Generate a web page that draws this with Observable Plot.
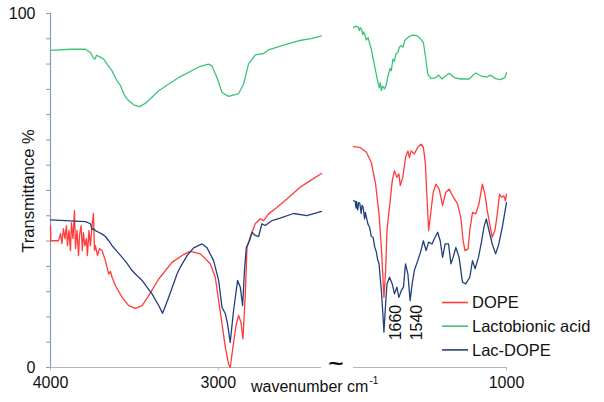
<!DOCTYPE html>
<html>
<head>
<meta charset="utf-8">
<script src="https://cdn.jsdelivr.net/npm/d3@7"></script>
<script src="https://cdn.jsdelivr.net/npm/@observablehq/plot@0.6"></script>
<style>
  html, body { margin: 0; padding: 0; background: #fff; }
  #chart { position: relative; width: 604px; height: 402px; background: #fff; overflow: hidden; }
  #chart svg { position: absolute; top: 0; }
</style>
</head>
<body>
<div id="chart"></div>
<script>
// ---------- data ----------
const seriesNames = ["DOPE", "Lactobionic acid", "Lac-DOPE"];
const seriesColors = ["#ff3b3b", "#3cc47a", "#243f7e"];

const leftDomain = [4000, 2385];
const rightDomain = [1900, 1000];
const leftXTicks = [4000, 3000];
const rightXTicks = [1000];
const yTicks = d3.range(15).map(i => i * 100 / 14);
const yTickLabels = [0, 100];
const xLabel = "wavenumber cm";
const xLabelSup = "-1";
const yLabel = "Transmittance %";
const breakMark = "~";
const peakLabels = [{wn: 1660, t: 12.7, label: "1660"}, {wn: 1540, t: 12.7, label: "1540"}];

// DOPE (wavenumber, transmittance)
const dopeLeft = [[4000,40.1],[3998,35.8],[3952,35.8],[3940,37.8],[3932,35.0],[3923,39.2],[3914,36.4],[3905,40.1],[3899,34.4],[3890,38.7],[3881,33.0],[3875,40.9],[3866,36.4],[3857,44.3],[3851,33.6],[3842,38.7],[3833,31.6],[3827,37.3],[3818,40.1],[3810,33.0],[3804,38.1],[3795,34.4],[3786,36.4],[3780,31.6],[3771,38.7],[3762,34.4],[3753,39.8],[3744,43.5],[3738,33.0],[3732,34.4],[3720,31.6],[3708,33.6],[3692,33.0],[3673,30.2],[3653,26.4],[3643,27.2],[3633,25.5],[3613,23.1],[3573,19.8],[3534,17.5],[3494,16.7],[3454,17.5],[3415,20.3],[3355,25.0],[3276,29.7],[3207,31.9],[3167,32.8],[3107,32.1],[3048,29.3],[3018,25.5],[2998,18.9],[2978,12.3],[2958,5.7],[2939,1.0],[2929,0],[2913,5.7],[2893,12.3],[2879,14.7],[2865,12.8],[2853,8.1],[2839,20.8],[2829,33.9],[2810,36.8],[2780,40.6],[2750,42.0],[2730,41.5],[2701,43.4],[2651,45.2],[2591,47.6],[2512,50.9],[2452,52.8],[2385,54.8]];
const dopeRight = [[1900,62.4],[1863,62.2],[1824,60.8],[1795,57.9],[1770,51.8],[1750,43.4],[1736,33.9],[1726,24.5],[1721,19.8],[1711,27.4],[1703,38.7],[1691,44.3],[1684,47.1],[1672,52.8],[1659,55.6],[1645,53.7],[1633,54.7],[1625,51.4],[1610,53.7],[1594,59.3],[1580,61.2],[1571,59.3],[1561,61.2],[1542,60.3],[1522,62.2],[1503,63.1],[1489,62.2],[1477,57.5],[1468,48.1],[1458,38.7],[1444,44.3],[1431,49.5],[1415,51.8],[1396,50.4],[1376,45.7],[1357,49.5],[1337,50.4],[1317,48.5],[1288,46.2],[1269,42.4],[1255,35.8],[1244,33.0],[1226,33.5],[1216,38.7],[1200,43.8],[1181,43.4],[1162,46.2],[1142,51.8],[1127,49.0],[1113,44.3],[1099,40.6],[1084,36.8],[1068,38.7],[1054,43.4],[1041,49.0],[1029,48.1],[1016,48.5],[1006,47.1],[1000,49.0]];

// Lactobionic acid
const lactoLeft = [[4000,89.6],[3880,89.9],[3792,89.9],[3762,89.0],[3745,87.5],[3736,87.1],[3725,88.2],[3716,88.0],[3700,87.6],[3683,87.1],[3660,85.5],[3633,83.8],[3610,81.5],[3583,79.6],[3560,77.0],[3543,75.8],[3504,74.2],[3469,73.7],[3435,74.6],[3355,78.2],[3236,81.9],[3117,84.9],[3058,85.7],[3038,85.2],[3008,81.9],[2978,77.7],[2939,76.6],[2879,77.4],[2849,80.1],[2820,85.7],[2780,88.3],[2730,88.7],[2701,89.7],[2601,91.2],[2522,92.3],[2442,93.0],[2385,93.7]];
const lactoRight = [[1900,96.0],[1890,96.4],[1873,96.3],[1865,95.2],[1860,96.0],[1853,95.6],[1845,94.0],[1840,94.8],[1834,94.2],[1825,92.5],[1814,93.2],[1805,91.5],[1795,89.9],[1776,85.2],[1756,80.5],[1748,79.0],[1742,80.5],[1736,78.2],[1728,79.5],[1717,78.7],[1707,80.0],[1697,82.4],[1685,84.5],[1678,83.8],[1668,87.1],[1660,86.5],[1650,88.6],[1639,89.0],[1630,90.5],[1619,90.9],[1608,90.5],[1600,92.3],[1590,92.8],[1570,93.6],[1551,93.9],[1530,93.8],[1513,93.2],[1489,91.8],[1477,88.0],[1463,82.9],[1444,81.6],[1415,81.9],[1399,82.6],[1380,81.5],[1357,82.4],[1337,83.1],[1308,81.9],[1269,81.5],[1220,81.5],[1181,83.2],[1142,82.2],[1113,82.1],[1094,82.6],[1064,81.6],[1035,81.3],[1010,81.9],[1000,83.3]];

// Lac-DOPE
const lacDopeLeft = [[4000,41.7],[3911,41.5],[3792,41.2],[3762,40.6],[3752,39.0],[3742,39.1],[3730,38.6],[3713,38.2],[3690,37.6],[3673,37.0],[3650,35.6],[3633,34.4],[3600,32.6],[3573,31.1],[3545,29.5],[3514,27.4],[3485,26.0],[3454,24.6],[3425,22.7],[3395,20.8],[3355,17.5],[3332,15.3],[3296,19.8],[3246,26.4],[3227,28.3],[3186,31.6],[3147,33.8],[3097,34.9],[3067,33.8],[3028,30.2],[2998,24.6],[2978,17.0],[2958,15.2],[2945,12.3],[2929,7.1],[2909,16.1],[2885,24.6],[2869,22.7],[2855,17.5],[2844,27.4],[2833,33.9],[2814,35.8],[2799,38.2],[2780,37.3],[2760,37.0],[2740,40.6],[2720,40.1],[2680,41.5],[2631,42.2],[2552,43.5],[2472,42.9],[2385,44.1]];
const lacDopeRight = [[1900,47.1],[1890,46.9],[1885,45.0],[1882,46.9],[1875,44.5],[1870,46.6],[1863,46.4],[1855,43.5],[1850,45.8],[1843,45.2],[1835,42.0],[1830,43.8],[1824,42.4],[1815,40.5],[1805,39.6],[1795,37.0],[1785,36.8],[1775,34.0],[1766,32.7],[1758,30.5],[1750,29.3],[1736,21.7],[1726,14.2],[1721,10.0],[1711,18.0],[1703,23.6],[1688,25.5],[1672,23.6],[1659,20.8],[1645,22.7],[1633,19.8],[1619,21.7],[1606,22.7],[1594,29.3],[1580,26.4],[1567,18.9],[1555,23.6],[1542,27.4],[1522,30.2],[1503,33.0],[1489,35.8],[1473,33.0],[1458,35.4],[1438,34.9],[1425,36.3],[1405,38.2],[1390,35.8],[1376,31.1],[1361,34.9],[1341,34.9],[1327,29.3],[1314,31.1],[1298,33.9],[1279,31.1],[1259,24.1],[1240,23.6],[1216,25.5],[1200,30.2],[1185,27.9],[1165,31.1],[1146,35.8],[1133,39.6],[1119,42.0],[1103,38.7],[1084,34.9],[1064,32.1],[1045,34.9],[1025,39.6],[1000,46.6]];

// ---------- build ----------
const FONT = "'Liberation Sans', Arial, Helvetica, sans-serif";
const leftSeries = [dopeLeft, lactoLeft, lacDopeLeft];
const rightSeries = [dopeRight, lactoRight, lacDopeRight];

function table(arrs) {
  const rows = [];
  arrs.forEach((arr, i) => arr.forEach(([wn, t]) => rows.push({series: seriesNames[i], wn, t})));
  return rows;
}
const lineMarks = rows => seriesNames.map((name, i) =>
  Plot.line(rows.filter(r => r.series === name), {x: "wn", y: "t", stroke: seriesColors[i], strokeWidth: 1.3}));

const H = 402, MT = 13, MB = 35;
const chart = document.getElementById("chart");

const p1 = Plot.plot({
  width: 330, height: H, marginLeft: 50, marginRight: 9, marginTop: MT, marginBottom: MB,
  x: {domain: leftDomain},
  y: {domain: [0, 100]},
  style: {fontFamily: FONT, fontSize: "16px", background: "transparent", color: "#111"},
  marks: [
    Plot.ruleX([leftDomain[0]], {stroke: "#8a9bb8", strokeWidth: 1.2}),
    Plot.ruleY([0], {stroke: "#b5b5b5", strokeWidth: 1.2}),
    Plot.axisY({ticks: yTicks, tickSize: 4, tickPadding: 11, stroke: "#8a9bb8", fill: "#111",
      tickFormat: d => yTickLabels.some(v => Math.abs(v - d) < 1e-6) ? String(Math.round(d)) : "", label: null}),
    Plot.axisX({ticks: leftXTicks, tickSize: 3, tickPadding: 6, stroke: "#b5b5b5", fill: "#111", tickFormat: d => String(d), label: null}),
    ...lineMarks(table(leftSeries))
  ]
});
p1.style.left = "0px";
chart.appendChild(p1);

const p2 = Plot.plot({
  width: 274, height: H, marginLeft: 23, marginRight: 98, marginTop: MT, marginBottom: MB,
  x: {domain: rightDomain},
  y: {domain: [0, 100], axis: null},
  style: {fontFamily: FONT, fontSize: "16px", background: "transparent", color: "#111", overflow: "visible"},
  marks: [
    Plot.ruleY([0], {stroke: "#b5b5b5", strokeWidth: 1.2}),
    Plot.axisX({ticks: rightXTicks, tickSize: 3, tickPadding: 6, stroke: "#b5b5b5", fill: "#111", tickFormat: d => String(d), label: null}),
    ...lineMarks(table(rightSeries)),
    Plot.text(peakLabels, {x: "wn", y: "t", text: "label", rotate: -90, dx: 2, fill: "#111", fontSize: 16})
  ]
});
p2.style.left = "330px";
chart.appendChild(p2);

// overlay: axis titles, break mark, legend
const ov = d3.select(chart).append("svg")
  .attr("width", 604).attr("height", H)
  .style("left", "0px").style("pointer-events", "none")
  .style("font-family", FONT).style("fill", "#111");

ov.append("text")
  .attr("transform", "translate(34,191) rotate(-90)")
  .attr("text-anchor", "middle").attr("font-size", 16.5)
  .text(yLabel);

const xl = ov.append("text").attr("x", 251).attr("y", 392).attr("font-size", 16).text(xLabel);
xl.append("tspan").attr("font-size", 10).attr("dy", -8).attr("dx", 1).text(xLabelSup);

ov.append("text").attr("x", 336).attr("y", 370).attr("text-anchor", "middle")
  .attr("font-size", 21).attr("font-weight", "bold")
  .attr("transform", "translate(336,0) scale(1.25,1) translate(-336,0)")
  .text(breakMark);

const lg = ov.append("g");
seriesNames.forEach((name, i) => {
  const y = 302.5 + i * 23.7;
  lg.append("line").attr("x1", 442).attr("x2", 468).attr("y1", y).attr("y2", y)
    .attr("stroke", seriesColors[i]).attr("stroke-width", 1.6);
  lg.append("text").attr("x", 472).attr("y", y).attr("dy", "0.35em")
    .attr("font-size", 16.5).text(name);
});
</script>
</body>
</html>
